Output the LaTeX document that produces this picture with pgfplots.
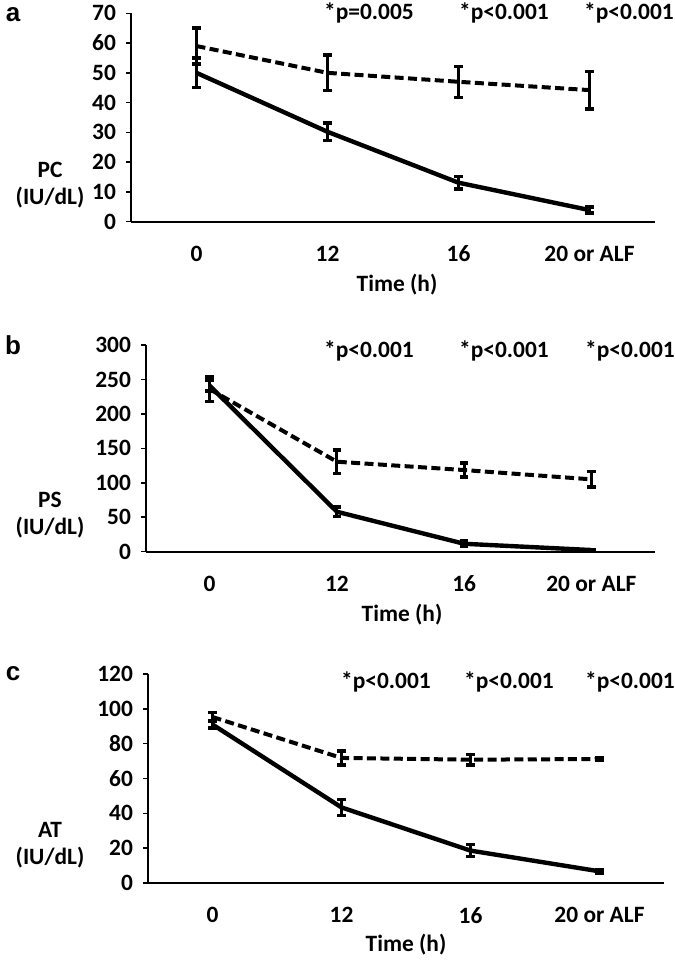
\documentclass[border=0pt]{standalone}
\usepackage{pgfplots}
\pgfplotsset{compat=1.18}
\usepackage{fontspec}
\setmainfont{Carlito}
\newfontfamily\letterfont{Liberation Sans}
\pgfplotsset{
 panel/.style={
  scale only axis, anchor=south west,
  xmin=-0.5, xmax=3.5, ymin=0,
  axis x line*=bottom, axis y line*=left,
  axis line style={line width=0.9pt, -},
  xtick={0,1,2,3}, xticklabels={0,12,16,20 or ALF},
  xtick style={draw=none},
  ytick style={line width=0.8pt, black},
  major tick length=2.5pt, tick align=outside,
  ticklabel style={font=\bfseries\fontsize{11.7}{13}\selectfont},
  /pgf/number format/assume math mode=true,
  xticklabel style={yshift=-6pt},
  yticklabel style={xshift=-1.5pt},
  clip=false,
 },
 solidl/.style={black, line width=2.2pt, line join=round, no markers,
   error bars/.cd, y dir=both, y explicit,
   error bar style={line width=1.5pt, solid},
   error mark options={rotate=90, line width=1.7pt, mark size=2.1pt, solid}},
 dashl/.style={black, line width=2pt, dash pattern=on 4.5pt off 2.2pt, no markers,
   error bars/.cd, y dir=both, y explicit,
   error bar style={line width=1.5pt, solid},
   error mark options={rotate=90, line width=1.7pt, mark size=2.1pt, solid}},
}
\tikzset{lab/.style={font=\bfseries\fontsize{11.7}{13.5}\selectfont, inner sep=0pt},
         plab/.style={font=\bfseries\fontsize{11.7}{13}\selectfont, inner sep=0pt},
         let/.style={font=\letterfont\bfseries\fontsize{13}{15}\selectfont, inner sep=0pt}}
\begin{document}
\begin{tikzpicture}
\path[use as bounding box] (0,0) rectangle (337.5pt,480pt);
% ---------- panel a ----------
\begin{axis}[panel, at={(65.5pt,369.15pt)}, width=262pt, height=104.2pt,
  ymax=70, ytick={0,10,...,70}]
\addplot+[dashl] coordinates {(0,59) +- (0,6) (1,50) +- (0,6) (2,47) +- (0,5.2) (3,44.2) +- (0,6.3)};
\addplot+[solidl] coordinates {(0,50) +- (0,5) (1,30.2) +- (0,3) (2,13.1) +- (0,2.1) (3,3.9) +- (0,1)};
\end{axis}
\node[let] at (6.5pt,472.5pt) {a};
\node[lab, align=center] at (25pt,387.5pt) {PC\\(IU/dL)};
\node[lab] at (198.5pt,337.5pt) {Time (h)};
\node[plab] at (184.5pt,473.5pt) {*p=0.005};
\node[plab] at (252pt,473.5pt) {*p<0.001};
\node[plab] at (314.5pt,473.5pt) {*p<0.001};
% ---------- panel b ----------
\begin{axis}[panel, at={(73pt,204.15pt)}, width=254.5pt, height=103.35pt,
  ymax=300, ytick={0,50,...,300}]
\addplot+[dashl] coordinates {(0,236) +- (0,18) (1,130.6) +- (0,17) (2,118.5) +- (0,10) (3,105) +- (0,11)};
\addplot+[solidl] coordinates {(0,241) +- (0,8) (1,58) +- (0,7) (2,11.5) +- (0,4) (3,2.4) +- (0,1)};
\end{axis}
\node[let] at (6.5pt,307.5pt) {b};
\node[lab, align=center] at (25pt,222.25pt) {PS\\(IU/dL)};
\node[lab] at (201pt,172.5pt) {Time (h)};
\node[plab] at (184.5pt,304.5pt) {*p<0.001};
\node[plab] at (252pt,304.5pt) {*p<0.001};
\node[plab] at (315pt,304.5pt) {*p<0.001};
% ---------- panel c ----------
\begin{axis}[panel, at={(74pt,38.5pt)}, width=258pt, height=104.5pt,
  ymax=120, ytick={0,20,...,120}]
\addplot+[dashl] coordinates {(0,95.3) +- (0,2.5) (1,71.8) +- (0,4) (2,70.8) +- (0,3) (3,71.2) +- (0,1)};
\addplot+[solidl] coordinates {(0,91) +- (0,2) (1,43.4) +- (0,4.5) (2,18.6) +- (0,3.5) (3,6.7) +- (0,1)};
\end{axis}
\node[let] at (6.5pt,143pt) {c};
\node[lab, align=center] at (25pt,57.25pt) {AT\\(IU/dL)};
\node[lab] at (203pt,7.5pt) {Time (h)};
\node[plab] at (193pt,139pt) {*p<0.001};
\node[plab] at (254.5pt,139pt) {*p<0.001};
\node[plab] at (315pt,139pt) {*p<0.001};
\end{tikzpicture}
\end{document}
